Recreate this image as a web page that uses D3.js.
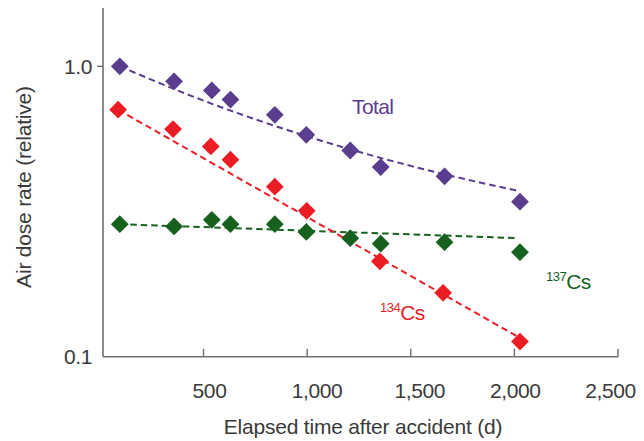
<!DOCTYPE html>
<html>
<head>
<meta charset="utf-8">
<script src="https://cdn.jsdelivr.net/npm/d3@7"></script>
<style>
  html, body { margin: 0; padding: 0; background: #fff; }
  svg { display: block; font-family: "Liberation Sans", Arial, sans-serif; }
</style>
</head>
<body>
<svg id="chart" width="644" height="441"></svg>
<script>
// ---- data ----
const days       = [96, 358, 540, 630, 844, 996, 1208, 1355, 1663, 2027];
const totalVals  = [1.0, 0.888, 0.826, 0.768, 0.681, 0.581, 0.513, 0.450, 0.418, 0.342];
const cs137Vals  = [0.286, 0.281, 0.296, 0.286, 0.286, 0.269, 0.256, 0.245, 0.248, 0.229];
const cs134Days  = [88, 353, 535, 630, 844, 998, 1351, 1656, 2027];
const cs134Vals  = [0.709, 0.608, 0.530, 0.477, 0.385, 0.318, 0.213, 0.166, 0.1127];

// dashed trend lines
const totalTrendDays = [96, 500, 1000, 1500, 2020];
const totalTrendVals = [1.0, 0.762, 0.574, 0.454, 0.372];
const cs134TrendDays = [88, 2027];
const cs134TrendVals = [0.709, 0.116];
const cs137TrendDays = [96, 2020];
const cs137TrendVals = [0.286, 0.256];

const xTicks = [500, 1000, 1500, 2000, 2500];
const xTickLabels = ["500", "1,000", "1,500", "2,000", "2,500"];
const yTicks = [0.1, 1.0];
const yTickLabels = ["0.1", "1.0"];

(function () {
// ---- layout ----
const svg = d3.select("#chart");
const mLeft = 103, mRight = 618, mTop = 8, mBottom = 356.7;
const x = d3.scaleLinear().domain([15, 2500]).range([mLeft, mRight]);
const y = d3.scaleLog().domain([0.1, 1.588]).range([mBottom, mTop]);
const labelDx = [6, 10, 9, 1, -7.5];

const textColor = "#3a3a3a";
const axisColor = "#6f6f6f";
const purple = "#5b3d8f", red = "#ec1c24", green = "#17611f";
const fs = 21;

// axes lines
svg.append("line").attr("x1", mLeft).attr("x2", mLeft).attr("y1", mTop).attr("y2", mBottom)
  .attr("stroke", axisColor).attr("stroke-width", 1.6);
svg.append("line").attr("x1", mLeft).attr("x2", mRight).attr("y1", mBottom).attr("y2", mBottom)
  .attr("stroke", axisColor).attr("stroke-width", 1.6);

// x ticks (inward) and labels
xTicks.forEach((t, i) => {
  svg.append("line").attr("x1", x(t)).attr("x2", x(t)).attr("y1", mBottom - 8).attr("y2", mBottom)
    .attr("stroke", axisColor).attr("stroke-width", 1.4);
  svg.append("text").attr("x", x(t) + labelDx[i]).attr("y", mBottom + 41)
    .attr("text-anchor", "middle").attr("font-size", fs).attr("fill", textColor)
    .attr("letter-spacing", -0.4)
    .text(xTickLabels[i]);
});

// y ticks and labels
yTicks.forEach((t, i) => {
  if (t !== 0.1) {
    svg.append("line").attr("x1", mLeft - 6).attr("x2", mLeft).attr("y1", y(t)).attr("y2", y(t))
      .attr("stroke", axisColor).attr("stroke-width", 1.4);
  }
  svg.append("text").attr("x", 92).attr("y", y(t) + 7.5)
    .attr("text-anchor", "end").attr("font-size", fs).attr("fill", textColor)
    .attr("letter-spacing", -0.4)
    .text(yTickLabels[i]);
});

// axis titles
svg.append("text").attr("x", 363).attr("y", 433.5)
  .attr("text-anchor", "middle").attr("font-size", fs).attr("fill", textColor)
  .attr("letter-spacing", -0.2)
  .text("Elapsed time after accident (d)");
svg.append("text").attr("transform", "translate(30.5,187) rotate(-90)")
  .attr("text-anchor", "middle").attr("font-size", fs).attr("fill", textColor)
  .attr("letter-spacing", -0.2)
  .text("Air dose rate (relative)");

// trend lines
const straight = d3.line().x(d => x(d[0])).y(d => y(d[1]));
const curved = d3.line().x(d => x(d[0])).y(d => y(d[1])).curve(d3.curveMonotoneX);
const trends = [
  { d: d3.zip(cs137TrendDays, cs137TrendVals), c: green, l: straight },
  { d: d3.zip(cs134TrendDays, cs134TrendVals), c: red, l: straight },
  { d: d3.zip(totalTrendDays, totalTrendVals), c: purple, l: curved }
];
trends.forEach(t => {
  svg.append("path").attr("d", t.l(t.d)).attr("fill", "none")
    .attr("stroke", t.c).attr("stroke-width", 2).attr("stroke-dasharray", "6.5,4");
});

// diamonds
const diamond = d3.symbol().type(d3.symbolSquare).size(158);
function drawPoints(xs, vs, color) {
  svg.append("g").selectAll("path").data(d3.zip(xs, vs)).join("path")
    .attr("d", diamond)
    .attr("transform", d => `translate(${x(d[0])},${y(d[1])}) rotate(45)`)
    .attr("fill", color);
}
drawPoints(days, cs137Vals, green);
drawPoints(cs134Days, cs134Vals, red);
drawPoints(days, totalVals, purple);

// series labels
svg.append("text").attr("x", 352).attr("y", 114).attr("font-size", 21).attr("fill", purple)
  .attr("letter-spacing", -0.6).text("Total");

const t134 = svg.append("text").attr("x", 380).attr("y", 320).attr("fill", red).attr("letter-spacing", -0.5);
t134.append("tspan").attr("font-size", 13).attr("dy", -8).text("134");
t134.append("tspan").attr("font-size", 21).attr("dy", 8).text("Cs");

const t137 = svg.append("text").attr("x", 546).attr("y", 288.5).attr("fill", green).attr("letter-spacing", -0.5);
t137.append("tspan").attr("font-size", 13).attr("dy", -8).text("137");
t137.append("tspan").attr("font-size", 21).attr("dy", 8).text("Cs");
})();
</script>
</body>
</html>
